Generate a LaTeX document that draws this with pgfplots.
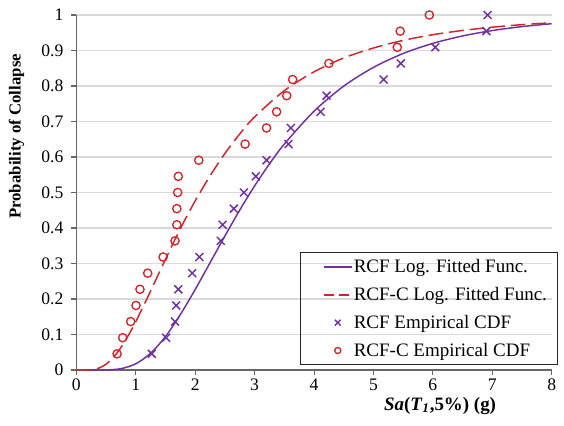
\documentclass[border=0pt]{standalone}
\usepackage{fontspec}
\setmainfont{Liberation Serif}
\usepackage{pgfplots}
\pgfplotsset{compat=1.18}

\definecolor{rcfpurple}{RGB}{112,48,160}
\definecolor{rcfred}{RGB}{210,35,40}
\definecolor{gridgray}{RGB}{217,217,217}

\begin{document}
\begin{tikzpicture}
\begin{axis}[
  name=main, anchor=south west,
  scale only axis, width=356.5pt, height=266.25pt,
  xmin=0, xmax=8, ymin=0, ymax=1,
  xtick={0,1,2,3,4,5,6,7,8},
  ytick={0,0.1,0.2,0.3,0.4,0.5,0.6,0.7,0.8,0.9,1},
  axis lines*=left,
  axis line style={black!60, line width=0.8pt},
  tick align=outside, major tick length=3.75pt,
  tick style={black!60, line width=0.8pt},
  ymajorgrids, grid style={gridgray, line width=1pt},
  ticklabel style={font=\fontsize{13.2}{15}\selectfont},
  yticklabel style={xshift=-2.5pt},
  xticklabel style={inner ysep=1.5pt, yshift=-1.5pt},
  /pgf/number format/assume math mode=true,
  xlabel={\textbf{\textit{Sa}(\textit{T}\textsubscript{\textit{1}},5\%) (g)}},
  xlabel style={at={(axis description cs:0.765,0)}, anchor=base, inner sep=0pt, yshift=-30pt, font=\fontsize{14.2}{16}\selectfont},
  ylabel={\textbf{Probability of Collapse}},
  ylabel style={at={(axis description cs:-0.126,0.658)}, anchor=center, font=\fontsize{12.6}{15}\selectfont},
  legend cell align=left,
  legend style={at={(rel axis cs:0.47,0.332)}, anchor=north west,
    draw=black!85, line width=0.8pt, fill=none,
    font=\fontsize{14.25}{16}\selectfont,
    inner xsep=7pt, inner ysep=4pt, row sep=7.5pt,
    nodes={inner sep=1pt}},
]
% fitted lognormal curves
\addplot[rcfpurple, line width=1.1pt, smooth,
  legend image code/.code={\path (-10pt,0pt); \draw[rcfpurple, line width=1.1pt] (0pt,0pt) -- (21pt,0pt);}]
  coordinates {
  (0.2,0)(0.5,0.0003)(0.75,0.0038)(1.0,0.0175)(1.25,0.0474)(1.5,0.0944)
  (1.75,0.1563)(2.0,0.2269)(2.25,0.3023)(2.5,0.3776)(2.75,0.4507)(3.0,0.5187)
  (3.25,0.5808)(3.5,0.6365)(4.0,0.729)(4.5,0.7998)(5.0,0.8525)(5.5,0.8916)
  (6.0,0.9201)(6.5,0.941)(7.0,0.9562)(7.5,0.9673)(8.0,0.9755)
  };
\addlegendentry{RCF Log. Fitted Func.}

\addplot[rcfred, line width=1.1pt, smooth, dash pattern=on 11pt off 4.5pt,
  legend image code/.code={\path (-10pt,0pt); \draw[rcfred, line width=1.1pt, dash pattern=on 7.5pt off 4pt] (0pt,0pt) -- (21pt,0pt);}]
  coordinates {
  (0,0)(0.2,0.0002)(0.3,0.0019)(0.4,0.0068)(0.5,0.0164)(0.6,0.0314)(0.7,0.0515)
  (0.8,0.0764)(0.9,0.105)(1.0,0.1365)(1.2,0.205)(1.4,0.2766)(1.6,0.3472)
  (1.8,0.4145)(2.0,0.4765)(2.25,0.547)(2.5,0.61)(2.75,0.665)(3.0,0.713)
  (3.5,0.787)(4.0,0.84)(4.5,0.879)(5.0,0.907)(5.5,0.9285)(6.0,0.9445)
  (6.5,0.9565)(7.0,0.9657)(7.5,0.9728)(8.0,0.9781)
  };
\addlegendentry{RCF-C Log. Fitted Func.}

% empirical CDFs
\addplot[only marks, mark=x, mark size=4.2pt, rcfpurple, line width=1.1pt,
  legend image code/.code={\path (-10pt,0pt) (21pt,0pt); \draw[rcfpurple, line width=1pt] plot[mark=x, mark size=3pt] coordinates {(10.5pt,0pt)};}]
  coordinates {
  (1.27,0.0455)(1.51,0.0909)(1.66,0.1364)(1.68,0.1818)(1.715,0.2273)(1.95,0.2727)
  (2.07,0.3182)(2.43,0.3636)(2.46,0.4091)(2.65,0.4545)(2.82,0.5)(3.02,0.5455)
  (3.20,0.5909)(3.57,0.6364)(3.61,0.6818)(4.11,0.7273)(4.21,0.7727)(5.17,0.8182)
  (5.46,0.8636)(6.04,0.9091)(6.90,0.9545)(6.92,1.0)
  };
\addlegendentry{RCF Empirical CDF}

\addplot[only marks, mark=o, mark size=3.1pt, rcfred, line width=1pt,
  legend image code/.code={\path (-10pt,0pt) (21pt,0pt); \draw[rcfred, line width=1pt] plot[mark=o, mark size=2.3pt] coordinates {(10.5pt,0pt)};}]
  coordinates {
  (0.685,0.0455)(0.78,0.0909)(0.914,0.1364)(1.003,0.1818)(1.07,0.2273)(1.20,0.2727)
  (1.46,0.3182)(1.66,0.3636)(1.69,0.4091)(1.69,0.4545)(1.705,0.5)(1.715,0.5455)
  (2.06,0.5909)(2.84,0.6364)(3.20,0.6818)(3.37,0.7273)(3.54,0.7727)(3.64,0.8182)
  (4.25,0.8636)(5.40,0.9091)(5.45,0.9545)(5.94,1.0)
  };
\addlegendentry{RCF-C Empirical CDF}
\end{axis}
% page frame: 564x425 px at 0.75 pt per px, axis box at (76.4,55) px from lower left
\path (main.south west) ++(-57.3pt,-41.25pt) rectangle ++(423pt,318.75pt);
\end{tikzpicture}
\end{document}
